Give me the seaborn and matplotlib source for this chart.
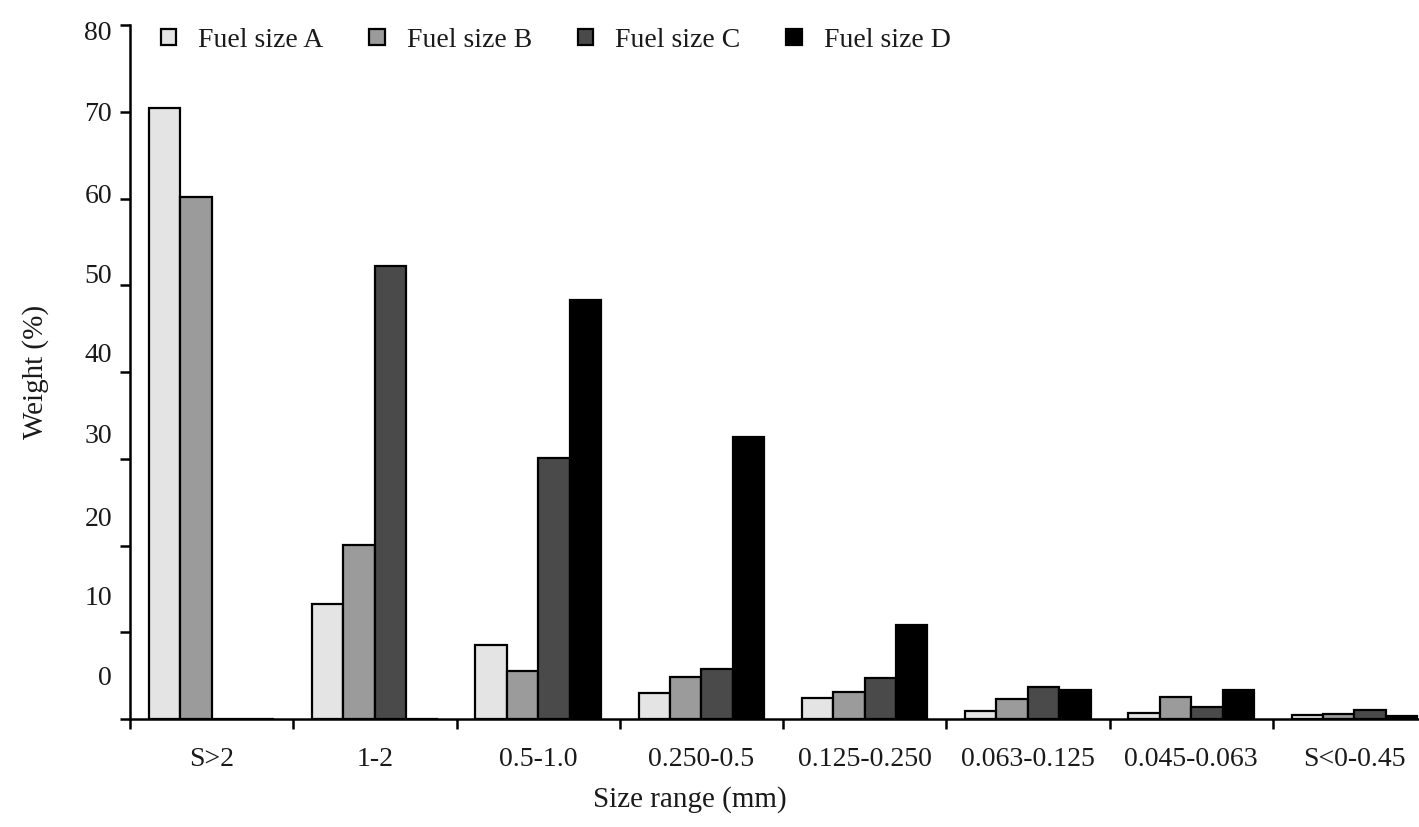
import numpy as np
import pandas as pd
import matplotlib
matplotlib.use("Agg")
import matplotlib.pyplot as plt
import matplotlib.patches as mpatches
import seaborn as sns

# data
categories = ["S>2", "1-2", "0.5-1.0", "0.250-0.5", "0.125-0.250",
              "0.063-0.125", "0.045-0.063", "S<0-0.45"]
fuel_a = [70.4, 13.3, 8.5, 3.0, 2.4, 0.9, 0.7, 0.45]
fuel_b = [60.2, 20.1, 5.5, 4.8, 3.1, 2.3, 2.5, 0.6]
fuel_c = [0.0, 52.2, 30.1, 5.8, 4.7, 3.7, 1.4, 1.0]
fuel_d = [0.0, 0.0, 48.3, 32.5, 10.8, 3.4, 3.4, 0.35]
series = ["Fuel size A", "Fuel size B", "Fuel size C", "Fuel size D"]
colors = ["#e4e4e4", "#9b9b9b", "#4a4a4a", "#000000"]

# y tick labels sit a bit off their ticks in the original
ytick_values = [0, 10, 20, 30, 40, 50, 60, 70, 80]
ytick_label_pos = [5.0, 14.2, 23.4, 32.9, 42.3, 51.3, 60.6, 70.0, 79.4]
ytick_labels = ["0", "10", "20", "30", "40", "50", "60", "70", "80"]

df = pd.DataFrame({"range": categories, series[0]: fuel_a, series[1]: fuel_b,
                   series[2]: fuel_c, series[3]: fuel_d})
df = df.melt(id_vars="range", var_name="fuel", value_name="weight")

sns.set_style("ticks")
plt.rcParams['font.family'] = ['Liberation Serif', 'DejaVu Serif']
txt = "#1a1a1a"

fig = plt.figure(figsize=(14.19, 8.27), dpi=100)
ax = fig.add_axes([130 / 1419, 108 / 827, 1306 / 1419, 694 / 827])

sns.barplot(data=df, x="range", y="weight", hue="fuel", order=categories,
            hue_order=series, palette=colors, saturation=1, width=0.77,
            edgecolor="black", linewidth=1.6, legend=False, ax=ax)

ax.set_xlim(-0.5, 7.5)
ax.set_ylim(0, 80)
sns.despine(ax=ax)
for s in ["left", "bottom"]:
    ax.spines[s].set_linewidth(1.8)
    ax.spines[s].set_color("black")

# x: tick marks between groups, labels centred on groups
ax.set_xticks(np.arange(-0.5, 8, 1))
ax.xaxis.set_major_formatter(plt.NullFormatter())
ax.set_xticks(range(len(categories)), categories, minor=True)
ax.tick_params(axis="x", which="major", length=7, width=1.8, direction="out", color="black")
ax.tick_params(axis="x", which="minor", length=0, pad=20, labelsize=20, labelcolor=txt)

# y: marks every 10, labels at their own spots
ax.yaxis.remove_overlapping_locs = False
ax.set_yticks(ytick_values)
ax.yaxis.set_major_formatter(plt.NullFormatter())
ax.set_yticks(ytick_label_pos, ytick_labels, minor=True)
ax.tick_params(axis="y", which="major", length=7, width=1.8, direction="out", color="black")
ax.tick_params(axis="y", which="minor", length=0, pad=13, labelsize=20, labelcolor=txt)

ax.set_xlabel("Size range (mm)", fontsize=21, color=txt)
ax.xaxis.set_label_coords(0.429, -0.097)
ax.set_ylabel("Weight (%)", fontsize=21, color=txt)
ax.yaxis.set_label_coords(-0.062, 0.5)

handles = [mpatches.Patch(facecolor=c, edgecolor="black", linewidth=1.6) for c in colors]
ax.legend(handles, series, loc="center left", bbox_to_anchor=(0.015, 0.978),
          ncol=4, frameon=False, fontsize=20, handlelength=0.55, handleheight=0.55,
          handletextpad=0.8, columnspacing=1.65, borderaxespad=0, labelcolor=txt)

fig.savefig("out.png", dpi=100)
